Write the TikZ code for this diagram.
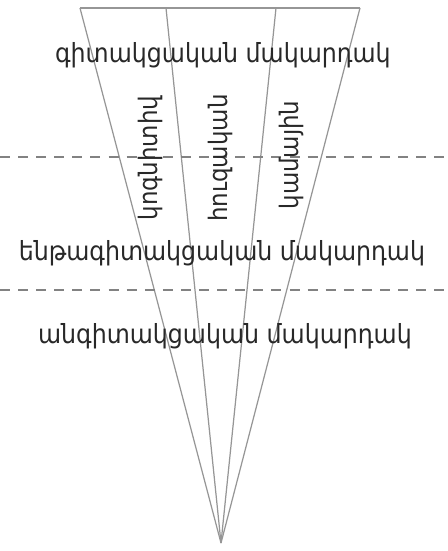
\documentclass[tikz,border=0pt]{standalone}
\usepackage{fontspec}
\setmainfont{DejaVu Sans Condensed}
\usepackage{tikz}
\usetikzlibrary{positioning, calc}
\definecolor{conegray}{RGB}{150, 150, 150}
\definecolor{sepgray}{RGB}{130, 130, 130}
\definecolor{inkdark}{RGB}{40, 40, 40}
\tikzset{
  coneline/.style={draw=conegray, line width=0.7pt},
  levelsep/.style={draw=sepgray, line width=1.1pt, dash pattern=on 5.7pt off 4.6pt},
  levellabel/.style={font=\fontsize{15}{18}\selectfont, text=inkdark, inner sep=0pt},
  facetlabel/.style={font=\fontsize{14.5}{16}\selectfont, text=inkdark, rotate=90, inner sep=0pt}
}
\begin{document}
\begin{tikzpicture}[x=0.02cm, y=-0.02cm]
    \useasboundingbox (0, 0) rectangle (447, 551);

    % --- CONE ---
    \coordinate (apex) at (221, 543);
    \coordinate (topL) at (80, 8);
    \coordinate (topA) at (166, 8);
    \coordinate (topB) at (276, 8);
    \coordinate (topR) at (360, 8);
    \draw[coneline] (topL) -- (topR);
    \foreach \t in {topL, topA, topB, topR}
        \draw[coneline] (\t) -- (apex);

    % --- LEVEL SEPARATORS ---
    \coordinate (sep1L) at (0, 157);
    \coordinate (sep1R) at (447, 157);
    \coordinate (sep2L) at (0, 290);
    \coordinate (sep2R) at (447, 290);
    \draw[levelsep] (sep1L) -- (sep1R);
    \draw[levelsep] (sep2L) -- (sep2R);

    % --- LEVEL LABELS ---
    \node[levellabel] (conscious) at (223, 55) {գիտակցական մակարդակ};
    \node[levellabel] (subconscious) at (222, 253) {ենթագիտակցական մակարդակ};
    \node[levellabel] (unconscious) at (225, 336) {անգիտակցական մակարդակ};

    % --- FACETS ---
    \node[facetlabel] (cognitive) at (150, 158) {կոգնիտիվ};
    \node[facetlabel] (emotional) at (220, 158) {հուզական};
    \node[facetlabel] (volitional) at (291, 155) {կամային};
\end{tikzpicture}
\end{document}
